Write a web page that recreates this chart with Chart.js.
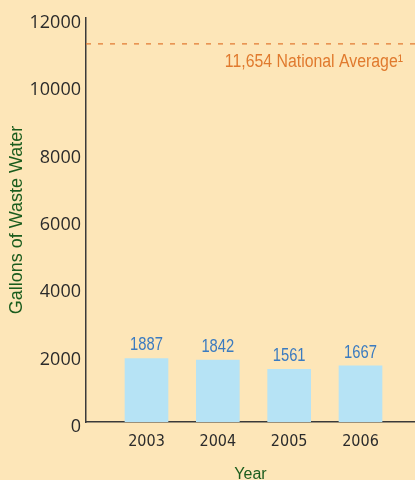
<!DOCTYPE html>
<html>
<head>
<meta charset="utf-8">
<script src="https://cdn.jsdelivr.net/npm/chart.js@4/dist/chart.umd.min.js"></script>
<style>
  html, body { margin: 0; padding: 0; background: #fde6b8; overflow: hidden; }
  #wrap { position: relative; width: 415px; height: 490px; }
</style>
</head>
<body>
<div id="wrap"><canvas id="wasteChart"></canvas></div>
<script>
// data
const years = [2003, 2004, 2005, 2006];
const gallons = [1887, 1842, 1561, 1667];
const yTicks = [0, 2000, 4000, 6000, 8000, 10000, 12000];
const averageValue = 11230;
const averageLabel = "11,654 National Average\u00b9";

// teks sempit (condensed) digambar dengan skala horizontal
function narrowText(ctx, text, x, y, align, squeeze) {
    ctx.save();
    ctx.translate(x, y);
    ctx.scale(squeeze, 1);
    ctx.textAlign = align;
    ctx.textBaseline = "middle";
    ctx.font = "18px 'Liberation Sans', Arial, sans-serif";
    ctx.fillText(text, 0, 0);
    ctx.restore();
}

// label angka di atas batang + garis rata-rata nasional
const extras = {
    id: "extras",
    afterDatasetsDraw(chart) {
        const ctx = chart.ctx;
        const area = chart.chartArea;
        const yScale = chart.scales.y;

        ctx.save();
        const yAvg = yScale.getPixelForValue(averageValue);
        ctx.strokeStyle = "#e27b33";
        ctx.lineWidth = 1.3;
        ctx.setLineDash([5, 7]);
        ctx.beginPath();
        ctx.moveTo(area.left, yAvg);
        ctx.lineTo(chart.width, yAvg);
        ctx.stroke();
        ctx.setLineDash([]);

        ctx.fillStyle = "#e07a2e";
        narrowText(ctx, averageLabel, 403, yAvg + 18, "right", 0.88);

        ctx.fillStyle = "#3b7bc0";
        chart.getDatasetMeta(0).data.forEach((bar, i) => {
            narrowText(ctx, String(gallons[i]), bar.x, bar.y - 13, "center", 0.82);
        });
        ctx.restore();
    },
};

const ctx = document.getElementById("wasteChart").getContext("2d");
new Chart(ctx, {
    type: "bar",
    data: {
        datasets: [
            {
                data: years.map((yr, i) => ({ x: yr, y: gallons[i] })),
                backgroundColor: "#b6e3f5",
                borderWidth: 0,
                barThickness: 43,
            },
        ],
    },
    options: {
        responsive: true,
        maintainAspectRatio: false,
        animation: false,
        layout: { padding: { top: 18, right: 0, left: 0, bottom: 0 } },
        plugins: { legend: { display: false }, tooltip: { enabled: false } },
        scales: {
            x: {
                type: "linear",
                offset: false,
                min: 2002.152,
                max: 2006.764,
                grid: { display: false, drawTicks: false, offset: false },
                border: { display: true, color: "#3a3a3a", width: 1.5 },
                afterBuildTicks: (scale) => {
                    scale.ticks = years.map((v) => ({ value: v }));
                },
                afterFit: (scale) => {
                    scale.height = 68;
                },
                ticks: {
                    padding: 10,
                    color: "#2b2b2b",
                    font: { family: "'DejaVu Sans Condensed', sans-serif", size: 16 },
                    callback: (v) => String(v),
                },
                title: {
                    display: true,
                    text: "Year",
                    color: "#1b5c1d",
                    font: { family: "'Liberation Sans', Arial, sans-serif", size: 16 },
                    padding: { top: 0, bottom: 6 },
                },
            },
            y: {
                min: 0,
                max: 12000,
                grid: { display: false, drawTicks: false },
                border: { display: true, color: "#3a3a3a", width: 1.5 },
                afterBuildTicks: (scale) => {
                    scale.ticks = yTicks.map((v) => ({ value: v }));
                },
                afterFit: (scale) => {
                    scale.width = 86;
                },
                ticks: {
                    padding: 5,
                    labelOffset: 5,
                    color: "#2b2b2b",
                    font: { family: "'Open Sans'", size: 18 },
                    callback: (v) => String(v),
                },
                title: {
                    display: true,
                    text: "Gallons of Waste Water",
                    color: "#1b5c1d",
                    font: { family: "'Liberation Sans', Arial, sans-serif", size: 18 },
                    padding: { top: 6, bottom: 0 },
                },
            },
        },
    },
    plugins: [extras],
});
</script>
</body>
</html>
